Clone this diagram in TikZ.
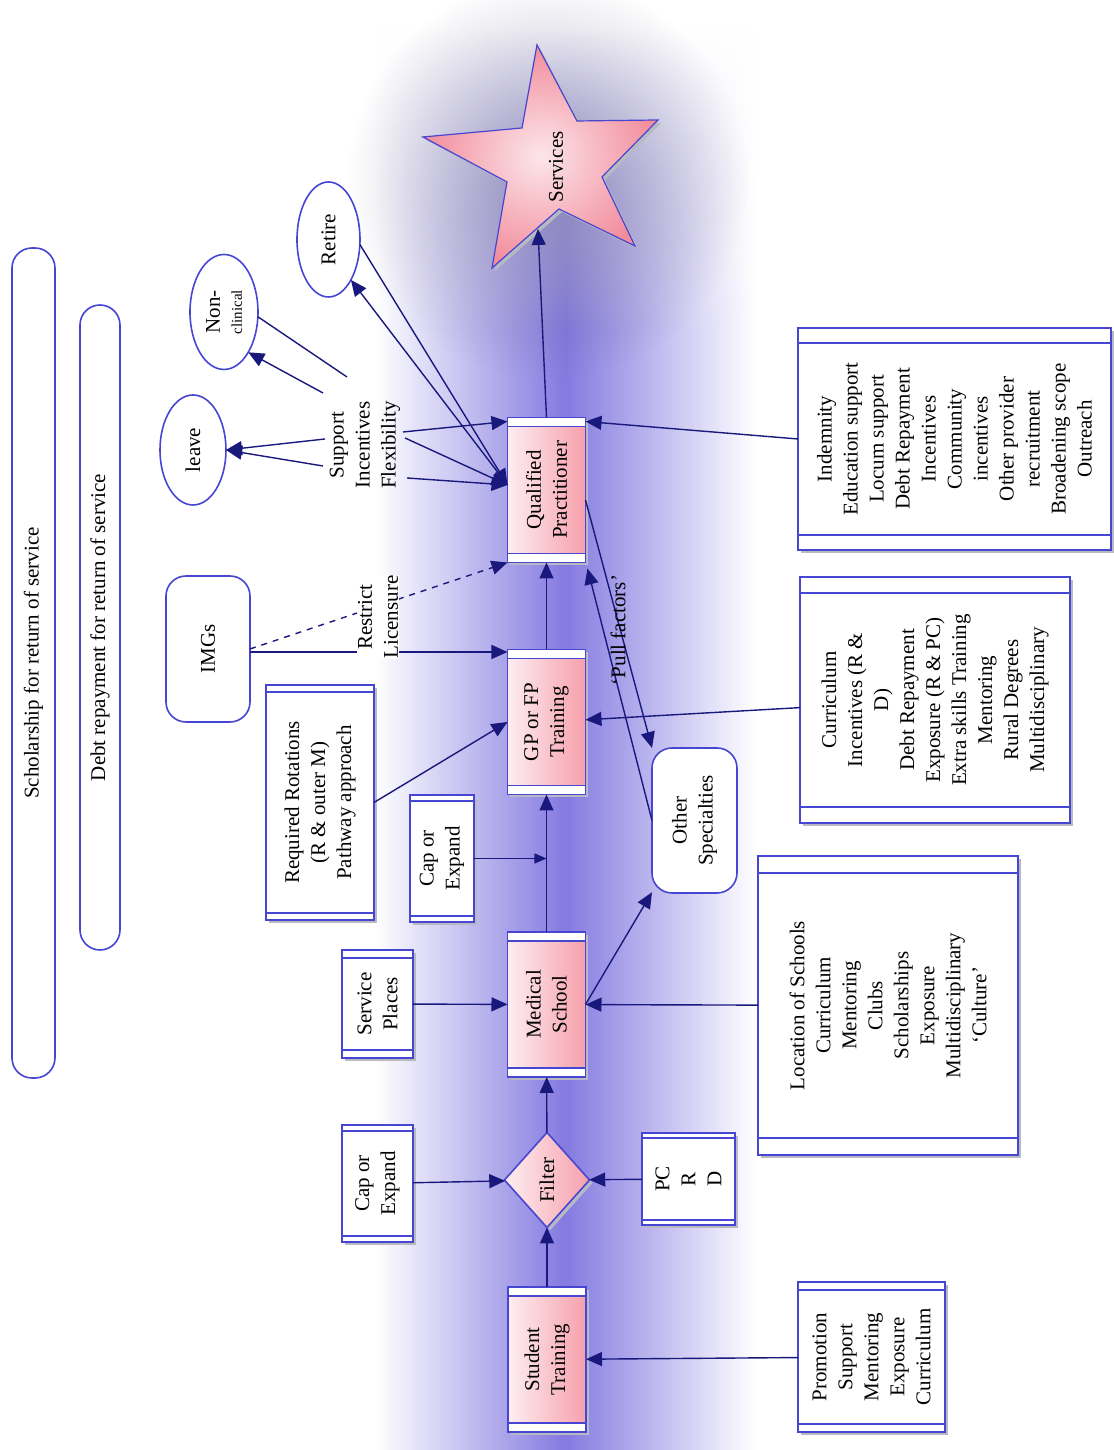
\documentclass[tikz,border=0pt]{standalone}
\usepackage{fontspec}
\setmainfont{Liberation Serif}
\usetikzlibrary{shapes.geometric,arrows.meta,calc,fadings}
\definecolor{boxblue}{RGB}{70,70,210}
\definecolor{arrowc}{RGB}{25,25,125}
\definecolor{pinkL}{RGB}{253,238,241}
\definecolor{pinkR}{RGB}{246,160,172}
\definecolor{bandc}{RGB}{132,122,224}
\definecolor{glowc}{RGB}{100,95,145}
\definecolor{shadowc}{RGB}{185,185,195}
\definecolor{starIn}{RGB}{252,230,234}
\definecolor{starOut}{RGB}{242,140,156}
\tikzfading[name=glowfade, inner color=transparent!0, outer color=transparent!100]
\tikzfading[name=bandtop, top color=transparent!100, bottom color=transparent!0]
\pgfdeclarelayer{bandlayer}
\pgfdeclarelayer{filllayer}
\pgfsetlayers{bandlayer,filllayer,main}
\newcommand\stripes[2]{\draw[boxline] ($(#1.south west)+(#2,0)$) -- ($(#1.north west)+(#2,0)$) ($(#1.south east)+(-#2,0)$) -- ($(#1.north east)+(-#2,0)$);}
\newcommand\boxshadow[1]{\fill[shadowc] ($(#1.south west)+(1.5,-1.5)$) rectangle ($(#1.north east)+(1.5,-1.5)$);}
\newcommand\pinkfill[2]{\shade[left color=pinkL, right color=pinkR] (#1.south west) rectangle (#1.north east);
  \fill[white] (#1.north east) rectangle ($(#1.south east)+(0,-#2)$);
  \fill[white] (#1.north west) rectangle ($(#1.south west)+(0,#2)$);}
\tikzset{
 boxline/.style={draw=boxblue, line width=0.8pt},
 base/.style={font=\fontsize{21}{26}\selectfont, align=center, inner sep=2pt, outer sep=0pt},
 pbox/.style={base, rectangle, boxline, minimum width=145pt, minimum height=78pt},
 wbox/.style={base, rectangle, boxline, fill=white},
 rbox/.style={base, rectangle, rounded corners=10pt, boxline, fill=white},
 ell/.style={base, ellipse, boxline, fill=white, inner sep=0pt},
 arr/.style={draw=arrowc, line width=0.7pt, -{Triangle[length=8pt,width=7pt]}},
 arrs/.style={draw=arrowc, line width=0.7pt, -{Triangle[length=6pt,width=5pt]}},
 ln/.style={draw=arrowc, line width=0.7pt},
}
\begin{document}
\begin{tikzpicture}[x=1pt,y=1pt]
\useasboundingbox (-556.5,0) rectangle (0,725);
\begin{scope}[scale=0.5, rotate=90, transform shape]
 % star
 \fill[shadowc] (1402,573) -- (1326,533) -- (1327,452) -- (1270,508) -- (1201,475) -- (1238,551) -- (1179,618) -- (1265,603) -- (1310,687) -- (1319,588) -- cycle;
 \shadedraw[inner color=starIn, outer color=starOut, draw=boxblue, line width=0.6pt] (1405,576) -- (1329,536) -- (1330,455) -- (1273,511) -- (1204,478) -- (1241,554) -- (1182,621) -- (1268,606) -- (1313,690) -- (1322,591) -- cycle;
 \node[base] (svc) at (1283,557) {Services};
 \coordinate (starin) at (1221,575);
 % central boxes
 \node[pbox] (ST) at (90.5,566) {Student\\Training};
 \node[base, diamond, boxline, minimum width=95pt, minimum height=85pt, inner sep=0pt] (F) at (270,566) {Filter};
 \node[pbox] (MS) at (445.5,566.5) {Medical\\School};
 \node[pbox] (GP) at (728,566.5) {GP or FP\\Training};
 \node[pbox] (QP) at (960,566.5) {Qualified\\Practitioner};
 % side boxes
 \node[wbox, minimum width=117pt, minimum height=71pt] (CE1) at (266.5,735.5) {Cap or\\Expand};
 \node[wbox, minimum width=92pt, minimum height=93pt] (PCRD) at (271,424.5) {PC\\R\\D};
 \node[wbox, minimum width=150pt, minimum height=147pt] (PR) at (93,241.5) {Promotion\\Support\\Mentoring\\Exposure\\Curriculum};
 \node[wbox, minimum width=108pt, minimum height=71pt] (SP) at (446,735.5) {Service\\Places};
 \node[wbox, minimum width=299pt, minimum height=260pt] (LB) at (444.5,225) {Location of Schools\\Curriculum\\Mentoring\\Clubs\\Scholarships\\Exposure\\Multidisciplinary\\`Culture'};
 \node[wbox, minimum width=127pt, minimum height=64pt] (CE2) at (591.5,671) {Cap or\\Expand};
 \node[rbox, minimum width=145pt, minimum height=85pt] (OS) at (629.5,418.5) {Other\\Specialties};
 \node[wbox, minimum width=235pt, minimum height=108pt] (RR) at (647.5,793) {Required Rotations\\(R \& outer M)\\Pathway approach};
 \node[rbox, minimum width=146pt, minimum height=84pt] (IM) at (801,905) {IMGs};
 \node[wbox, minimum width=246pt, minimum height=270pt] (CB) at (750,178) {Curriculum\\Incentives (R \&\\D)\\Debt Repayment\\Exposure (R \& PC)\\Extra skills Training\\Mentoring\\Rural Degrees\\Multidisciplinary};
 \node[wbox, minimum width=222pt, minimum height=313pt] (IB) at (1011,158.5) {Indemnity\\Education support\\Locum support\\Debt Repayment\\Incentives\\Community\\incentives\\Other provider\\recruitment\\Broadening scope\\Outreach};
 \node[rbox, minimum width=830pt, minimum height=43pt] (SCH) at (787,1079.5) {Scholarship for return of service};
 \node[rbox, minimum width=645pt, minimum height=40pt] (DR) at (822.5,1013) {Debt repayment for return of service};
 \node[ell, minimum width=110pt, minimum height=66pt] (LV) at (1000,920) {leave};
 \node[ell, minimum width=115pt, minimum height=68pt] (NC) at (1138,889) {Non-\\[-4pt]{\fontsize{15}{16}\selectfont clinical}};
 \node[ell, minimum width=115pt, minimum height=63pt] (RT) at (1210.5,784.5) {Retire};
 \node[base] (SIF) at (1005,748) {Support\\Incentives\\Flexibility};
 % stripes
 \stripes{ST}{9} \stripes{MS}{9} \stripes{GP}{9} \stripes{QP}{9}
 \stripes{CE1}{6} \stripes{PCRD}{5} \stripes{PR}{8} \stripes{SP}{8}
 \stripes{LB}{17} \stripes{CE2}{6} \stripes{RR}{7} \stripes{CB}{16} \stripes{IB}{15}
 % connectors
 \draw[arr] (ST) -- (F);
 \draw[arr] (CE1) -- (F);
 \draw[arr] (PCRD) -- (F);
 \draw[arr] (PR) -- (ST);
 \draw[arr] (F) -- (MS);
 \draw[arr] (SP) -- (MS);
 \draw[arr] (LB) -- (MS);
 \draw[arr] (MS) -- (GP);
 \draw[arrs] (CE2.south) -- (CE2.south |- MS.center);
 \draw[arr] (MS.south) -- (OS);
 \draw[arr] (RR.south) -- (GP.north);
 \coordinate (imA) at ($(IM.south)+(-3,0)$);
 \draw[arr] (imA) -- (imA |- GP.north);
 \draw[arr, dashed] (IM.south) -- (QP.north west);
 \draw[arr] (GP) -- (QP);
 \draw[arr] (QP.east) -- (starin);
 \draw[arr] (CB) -- (GP);
 \draw[arr] (IB.north) -- ($(QP.south east)+(-4,0)$);
 \draw[arr] ($(QP.south)+(-10,0)$) -- (OS.north east);
 \draw[arr] (OS.north) -- ($(QP.south west)+(-6,-2)$);
 \coordinate (qpin) at ($(QP.north)+(5,0)$);
 \draw[arr] ($(SIF)+(6,40)$) -- (LV.south);
 \draw[arr] ($(SIF)+(-21,42)$) -- (LV.south);
 \draw[arr] ($(SIF)+(52,42)$) -- (NC.211);
 \draw[ln] ($(SIF)+(68,18)$) -- (NC.262);
 \draw[arr] (qpin) -- (RT.209);
 \draw[arr] (RT.261) -- (qpin);
 \draw[arr] ($(SIF)+(13,-38)$) -- ($(QP.north east)+(-4,0)$);
 \draw[arr] ($(SIF)+(7,-40)$) -- (qpin);
 \draw[arr] ($(SIF)+(-33,-42)$) -- (qpin);
 % labels
 \node[base, fill=white, inner sep=1pt] (RL) at (833,735) {Restrict\\Licensure};
 \node[base] (PF) at (820,495) {`Pull factors'};
\end{scope}
% background band
\begin{pgfonlayer}{bandlayer}
\fill[white] (-556.5,0) rectangle (0,725);
\begin{scope}[shift={(-556.5,725)}, x=0.5pt, y=-0.5pt]
 \shade[left color=white, right color=white, middle color=bandc] (375,330) rectangle (755,1450);
 \shade[left color=white, right color=white, middle color=bandc, path fading=bandtop] (375,30) rectangle (755,330);
 \fill[glowc, opacity=0.55, path fading=glowfade] (548,180) circle[radius=200];
\end{scope}
\end{pgfonlayer}
% box fills
\begin{pgfonlayer}{filllayer}
 \boxshadow{ST} \boxshadow{MS} \boxshadow{GP} \boxshadow{QP}
 \boxshadow{CE1} \boxshadow{PCRD} \boxshadow{PR} \boxshadow{SP}
 \boxshadow{LB} \boxshadow{CE2} \boxshadow{RR} \boxshadow{CB} \boxshadow{IB}
 \pinkfill{ST}{4.5} \pinkfill{MS}{4.5} \pinkfill{GP}{4.5} \pinkfill{QP}{4.5}
 \fill[shadowc] ($(F.north)+(1.5,-1.5)$) -- ($(F.east)+(1.5,-1.5)$) -- ($(F.south)+(1.5,-1.5)$) -- ($(F.west)+(1.5,-1.5)$) -- cycle;
 \shade[left color=pinkL, right color=pinkR] (F.north) -- (F.east) -- (F.south) -- (F.west) -- cycle;
\end{pgfonlayer}
\end{tikzpicture}
\end{document}
